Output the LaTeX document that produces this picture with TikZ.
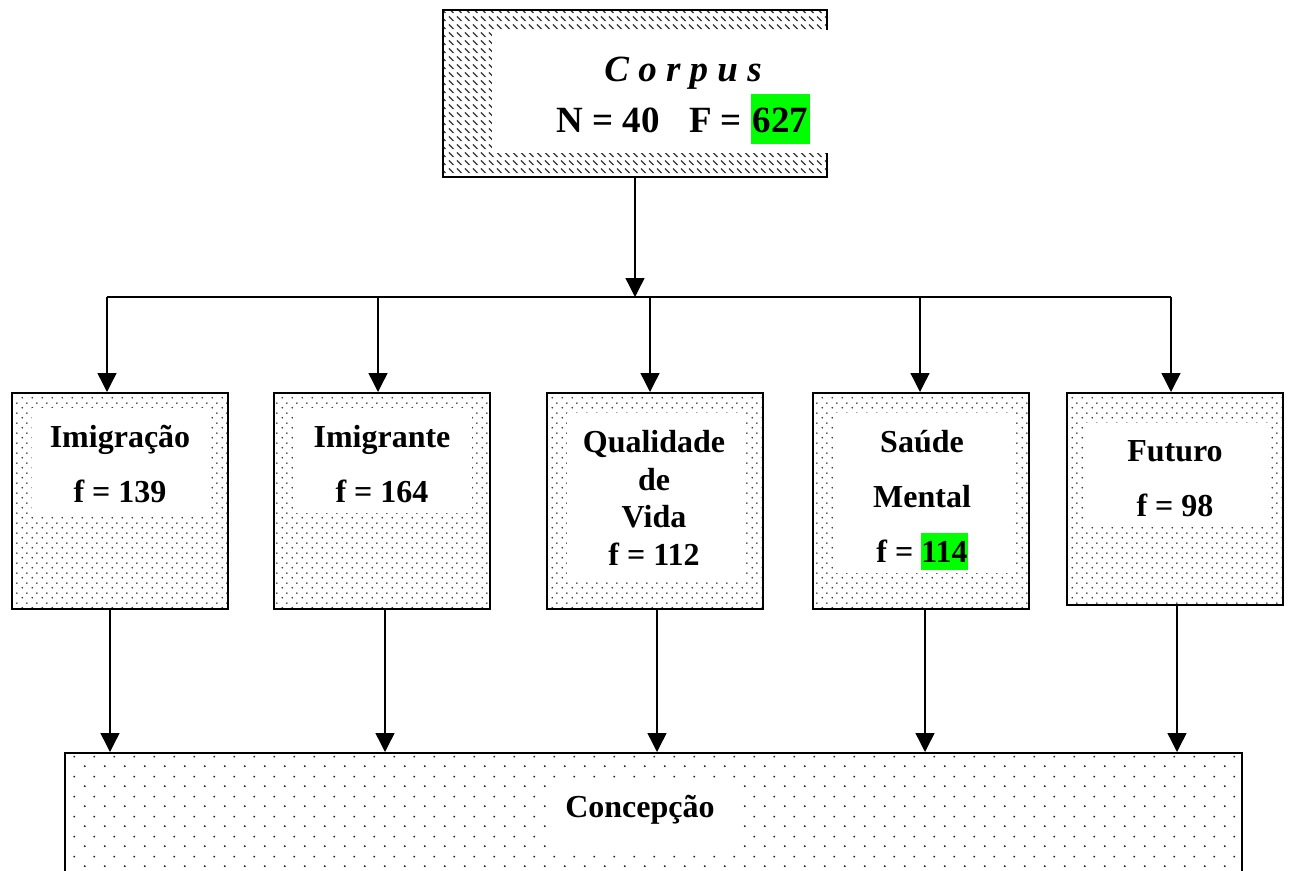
\documentclass[tikz,border=0pt]{standalone}
\usepackage{fontspec}
\setmainfont{Liberation Serif}
\usetikzlibrary{arrows.meta,patterns}
\definecolor{hlgreen}{RGB}{0,255,0}
\newcommand{\greenmark}[3]{{\setlength{\fboxsep}{0pt}\colorbox{hlgreen}{\rule[-#1]{0pt}{#2}#3}}}
\pgfdeclarepatternformonly{finedots}{\pgfpointorigin}{\pgfpoint{10pt}{10pt}}{\pgfpoint{10pt}{10pt}}{%
  \pgfpathcircle{\pgfpoint{2.5pt}{2.5pt}}{0.9pt}\pgfpathcircle{\pgfpoint{7.5pt}{7.5pt}}{0.9pt}\pgfusepath{fill}}
\pgfdeclarepatternformonly{coarsedots}{\pgfpointorigin}{\pgfpoint{20pt}{20pt}}{\pgfpoint{20pt}{20pt}}{%
  \pgfpathcircle{\pgfpoint{5pt}{5pt}}{1.1pt}\pgfpathcircle{\pgfpoint{15pt}{15pt}}{1.1pt}\pgfusepath{fill}}
\pgfdeclarepatternformonly{hatchdash}{\pgfpoint{-1pt}{-1pt}}{\pgfpoint{9pt}{9pt}}{\pgfpoint{8pt}{8pt}}{%
  \pgfsetlinewidth{1.2pt}\pgfpathmoveto{\pgfpoint{1pt}{5.5pt}}\pgfpathlineto{\pgfpoint{5.5pt}{1pt}}\pgfusepath{stroke}}

\begin{document}
\begin{tikzpicture}[x=1pt,y=-1pt,
  box/.style={draw,line width=2pt,minimum width=216pt,minimum height=216pt,pattern=finedots,pattern color=black!85},
  lbl/.style={font=\fontsize{32}{37}\selectfont\bfseries,align=center,inner sep=0pt},
  line/.style={line width=1.4pt},
  arr/.style={line width=1.4pt,-{Triangle[length=19pt,width=19pt]}}]
  \useasboundingbox (0,0) rectangle (1292,870);

  \node[draw,line width=2pt,minimum width=384pt,minimum height=167pt,
    pattern=hatchdash,pattern color=black!80] (corpus) at (635,93.5) {};
  \fill[white] (492,30) rectangle (828,153);
  \node[lbl,font=\fontsize{37}{44}\selectfont\bfseries\itshape] (corpus-title) at (683,73) {C o r p u s};
  \node[lbl,font=\fontsize{37}{44}\selectfont\bfseries] (corpus-n) at (683,119)
    {N = 40\hspace{0.8em}F = \greenmark{0.3em}{1.35em}{\kern1.5pt 627\kern1.5pt}};

  \node[box] (imigracao) at (120,501) {};
  \fill[white] (32,408) rectangle (210,517);
  \node[lbl] (t-imigracao) at (120,464.5) {Imigração\\[18pt]f = 139};

  \node[box] (imigrante) at (382,501) {};
  \fill[white] (293,408) rectangle (472,513);
  \node[lbl] (t-imigrante) at (382,464.5) {Imigrante\\[18pt]f = 164};

  \node[box] (qualidade) at (655,501) {};
  \fill[white] (567,413) rectangle (744,582);
  \node[lbl,font=\fontsize{32}{37.5}\selectfont\bfseries] (t-qualidade) at (654,498) {Qualidade\\de\\Vida\\f = 112};

  \node[box] (saude) at (921,501) {};
  \fill[white] (833,413) rectangle (1013,573);
  \node[lbl] (t-saude) at (922,500) {Saúde\\[18pt]Mental\\[18pt]f = \greenmark{0.25em}{1.15em}{114}};

  \node[box,minimum height=212pt] (futuro) at (1175,499) {};
  \fill[white] (1085,423) rectangle (1268,527);
  \node[lbl] (t-futuro) at (1175,478.5) {Futuro\\[18pt]f = 98};

  \node[box,pattern=coarsedots,minimum width=1177pt,minimum height=160pt] (concepcao) at (653.5,833) {};
  \fill[white] (547,778) rectangle (740,850);
  \node[lbl] (t-concepcao) at (640,809.5) {Concepção};

  \coordinate (b1) at (107,297);
  \coordinate (b2) at (378,297);
  \coordinate (b3) at (650,297);
  \coordinate (b4) at (920,297);
  \coordinate (b5) at (1171,297);
  \draw[arr] (corpus.south) -- (corpus.south |- b1);
  \draw[line] (b1) -- (b5);
  \foreach \b/\n in {b1/imigracao,b2/imigrante,b3/qualidade,b4/saude,b5/futuro}
    \draw[arr] (\b) -- (\b |- \n.north);

  \coordinate (d1) at (110,0);
  \coordinate (d2) at (385,0);
  \coordinate (d3) at (657,0);
  \coordinate (d4) at (925,0);
  \coordinate (d5) at (1177,0);
  \foreach \d/\n in {d1/imigracao,d2/imigrante,d3/qualidade,d4/saude,d5/futuro}
    \draw[arr] (\n.south -| \d) -- (concepcao.north -| \d);
\end{tikzpicture}
\end{document}
